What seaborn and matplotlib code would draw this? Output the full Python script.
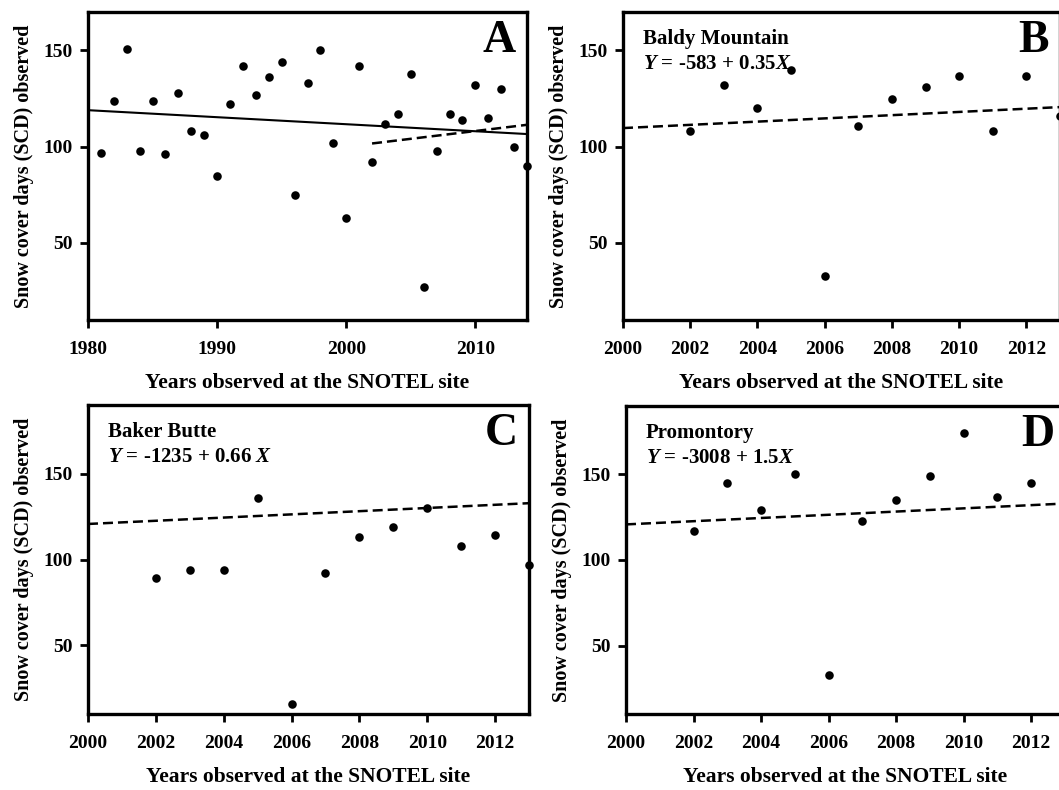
import numpy as np
import pandas as pd
import matplotlib
matplotlib.use('Agg')
import matplotlib.pyplot as plt
import seaborn as sns

# data
years_a = list(range(1981, 2015))
scd_a = [97, 124, 151, 98, 124, 96, 128, 108, 106, 85, 122, 142, 127, 136, 144,
         75, 133, 150, 102, 63, 142, 92, 112, 117, 138, 27, 98, 117, 114, 132,
         115, 130, 100, 90]

years_site = list(range(2002, 2014))
scd_baldy = [108, 132, 120, 140, 33, 111, 125, 131, 137, 108, 137, 116]
scd_baker = [89, 94, 94, 136, 16, 92, 113, 119, 130, 108, 114, 97]
scd_prom = [117, 145, 129, 150, 33, 123, 135, 149, 174, 137, 145, 117]

# trend lines: ([x start, x end], [y start, y end])
trend_a_all = ([1980, 2014], [119, 106.6])
trend_a_recent = ([2002, 2014], [101.7, 111.4])
trend_baldy = ([2000, 2013], [109.7, 120.6])
trend_baker = ([2000, 2013], [120.7, 132.8])
trend_prom = ([2000, 2013], [120.8, 133])

site_names = ['Baldy Mountain', 'Baker Butte', 'Promontory']
equations = [r'$Y$ = -583 + 0.35$X$', r'$Y$ = -1235 + 0.66 $X$', r'$Y$ = -3008 + 1.5$X$']
letters = ['A', 'B', 'C', 'D']

sns.set_style('ticks')
plt.rcParams['font.family'] = ['Liberation Serif', 'DejaVu Serif']
plt.rcParams['font.weight'] = 'bold'
plt.rcParams['text.color'] = 'black'
plt.rcParams['axes.labelcolor'] = 'black'
plt.rcParams['xtick.color'] = 'black'
plt.rcParams['ytick.color'] = 'black'
plt.rcParams['mathtext.fontset'] = 'custom'
plt.rcParams['mathtext.it'] = 'Liberation Serif:italic:bold'
plt.rcParams['mathtext.rm'] = 'Liberation Serif:bold'

W, H = 1059, 790
fig = plt.figure(figsize=(W / 100, H / 100), dpi=100)


def make_ax(left, right, top, bottom):
    return fig.add_axes([left / W, 1 - bottom / H, (right - left) / W, (bottom - top) / H])


ax_a = make_ax(88, 527, 12, 320)
ax_b = make_ax(623, 1060, 12, 320)
ax_c = make_ax(88, 529, 405, 714)
ax_d = make_ax(626, 1065, 406, 714)

panels = [
    (ax_a, years_a, scd_a, [trend_a_all, trend_a_recent], (1980, 2014), (10, 170), None, None),
    (ax_b, years_site, scd_baldy, [trend_baldy], (2000, 2013), (10, 170), site_names[0], equations[0]),
    (ax_c, years_site, scd_baker, [trend_baker], (2000, 2013), (10, 190), site_names[1], equations[1]),
    (ax_d, years_site, scd_prom, [trend_prom], (2000, 2013), (10, 190), site_names[2], equations[2]),
]

for i, (ax, yrs, vals, trends, xlim, ylim, name, eq) in enumerate(panels):
    df = pd.DataFrame({'year': yrs, 'scd': vals})
    sns.scatterplot(data=df, x='year', y='scd', ax=ax, color='black', s=38,
                    edgecolor='black', linewidth=0, clip_on=False, zorder=3)
    for j, (tx, ty) in enumerate(trends):
        if i == 0 and j == 0:
            ax.plot(tx, ty, color='black', lw=1.5)
        else:
            ax.plot(tx, ty, color='black', lw=1.8, linestyle=(0, (4, 2)))
    ax.set_xlim(*xlim)
    ax.set_ylim(*ylim)
    if i == 0:
        ax.set_xticks([1980, 1990, 2000, 2010])
    else:
        ax.set_xticks(range(2000, 2013, 2))
    ax.set_yticks([50, 100, 150])
    ax.set_xlabel('Years observed at the SNOTEL site', fontsize=15.5, fontweight='bold', labelpad=11)
    ax.set_ylabel('Snow cover days (SCD) observed', fontsize=14.5, fontweight='bold', labelpad=7)
    ax.tick_params(axis='x', direction='out', length=6, width=2, labelsize=14, pad=9)
    ax.tick_params(axis='y', direction='out', length=6, width=2, labelsize=14, pad=5)
    for lab in ax.get_xticklabels() + ax.get_yticklabels():
        lab.set_fontweight('bold')
    for sp in ax.spines.values():
        sp.set_linewidth(2.4)
        sp.set_color('black')
    ax.text(0.975, 0.975, letters[i], transform=ax.transAxes, ha='right', va='top',
            fontsize=33, fontweight='bold')
    if name is not None:
        ax.text(0.045, 0.945, name, transform=ax.transAxes, ha='left', va='top',
                fontsize=15, fontweight='bold')
        ax.text(0.045, 0.865, eq, transform=ax.transAxes, ha='left', va='top',
                fontsize=15, fontweight='bold')

fig.savefig('out.png', dpi=100)
